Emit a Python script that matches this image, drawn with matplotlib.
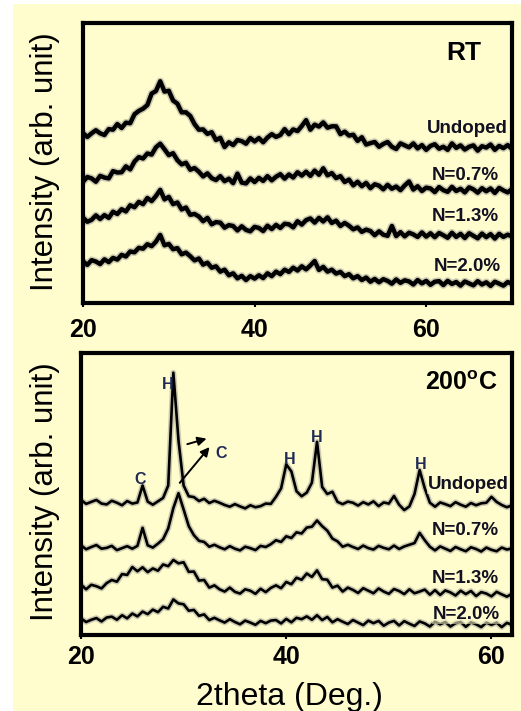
import numpy as np
import matplotlib
matplotlib.use("Agg")
import matplotlib.pyplot as plt
from matplotlib.patches import Rectangle

plt.rcParams['font.family'] = ['Liberation Sans', 'DejaVu Sans']

# ---- data (arbitrary intensity units, offset traces) ----
x_rt = np.linspace(20, 70, 101)          # 0.5 deg steps
x_200 = np.linspace(20, 62, 85)          # 0.5 deg steps

rt_undoped = [
    60.7, 59.3, 60.6, 61.7, 60.6, 60.0, 62.1, 61.9, 63.9, 62.5,
    64.4, 64.2, 67.4, 68.6, 69.4, 70.7, 74.8, 75.7, 79.2, 75.5,
    75.8, 72.3, 71.2, 68.1, 68.1, 66.8, 63.9, 61.9, 62.0, 60.4,
    61.0, 58.2, 59.0, 55.7, 57.4, 56.4, 58.2, 57.8, 56.9, 58.9,
    57.7, 58.9, 57.4, 59.1, 60.3, 59.3, 60.0, 62.1, 60.3, 62.0,
    61.4, 63.2, 65.3, 61.9, 63.7, 63.0, 64.5, 62.6, 63.1, 63.1,
    60.3, 61.2, 59.8, 60.1, 57.9, 59.2, 56.6, 57.1, 57.5, 55.8,
    56.8, 57.5, 55.8, 55.0, 57.0, 56.3, 55.6, 57.0, 55.2, 56.4,
    54.7, 56.1, 56.7, 55.1, 55.8, 54.7, 57.0, 55.4, 56.3, 54.8,
    55.8, 56.3, 54.4, 56.0, 55.5, 56.6, 54.7, 56.1, 55.3, 56.4,
    55.0]
rt_n07 = [
    43.3, 45.0, 44.5, 43.3, 45.4, 44.8, 44.5, 47.1, 46.6, 46.7,
    48.8, 47.7, 50.5, 52.1, 51.6, 53.4, 53.0, 55.6, 56.9, 54.9,
    52.8, 53.5, 51.0, 49.5, 50.1, 47.6, 48.2, 46.9, 45.2, 46.3,
    44.6, 43.9, 45.3, 43.5, 44.4, 42.8, 46.2, 43.0, 42.7, 44.5,
    43.2, 44.7, 43.6, 45.3, 43.8, 45.1, 46.0, 44.4, 45.9, 44.8,
    46.7, 45.5, 46.9, 45.4, 47.3, 45.8, 48.1, 45.6, 46.4, 44.6,
    45.3, 43.2, 44.1, 42.0, 43.3, 41.7, 42.9, 41.0, 42.4, 41.9,
    40.6, 42.2, 40.8, 41.6, 40.3, 42.0, 43.4, 40.5, 41.7, 40.0,
    41.2, 40.9, 39.6, 41.4, 40.3, 39.7, 41.5, 40.0, 40.8, 39.5,
    41.3, 40.6, 39.4, 41.0, 39.9, 40.9, 39.3, 41.1, 40.2, 39.5,
    40.7]
rt_n13 = [
    30.5, 29.0, 29.7, 31.3, 30.0, 31.4, 30.4, 32.6, 31.8, 33.5,
    32.7, 34.9, 34.2, 36.1, 35.3, 37.5, 36.4, 38.2, 40.4, 37.0,
    37.9, 35.3, 35.9, 33.4, 34.1, 31.5, 31.8, 30.9, 29.2, 30.4,
    28.1, 28.9, 28.7, 26.9, 27.8, 27.5, 25.9, 27.4, 26.1, 25.6,
    27.2, 26.8, 25.7, 27.6, 26.4, 27.9, 26.8, 28.3, 28.1, 27.0,
    29.2, 28.0, 29.6, 30.2, 28.7, 30.4, 29.1, 30.6, 28.6, 29.4,
    27.5, 28.6, 27.6, 26.3, 27.0, 25.4, 26.2, 25.7, 24.2, 25.6,
    24.4, 24.0, 27.5, 23.9, 25.3, 23.8, 25.1, 24.5, 23.6, 25.2,
    23.7, 24.9, 23.5, 25.0, 24.2, 23.3, 25.1, 23.6, 24.7, 23.2,
    24.9, 24.0, 23.1, 24.8, 23.5, 24.6, 23.0, 24.7, 23.6, 24.4,
    23.8]
rt_n20 = [
    14.9, 13.6, 15.3, 14.8, 13.9, 15.6, 14.6, 16.1, 15.5, 17.2,
    16.6, 18.4, 18.1, 19.7, 19.4, 21.0, 20.3, 21.9, 24.3, 20.6,
    21.1, 19.2, 19.6, 17.4, 18.0, 16.7, 15.2, 15.9, 13.7, 14.4,
    12.6, 13.1, 11.2, 11.9, 9.9, 10.6, 8.8, 9.7, 8.2, 9.6,
    8.7, 9.9, 8.9, 10.6, 9.6, 11.2, 10.3, 11.9, 11.1, 12.6,
    11.6, 13.1, 12.0, 13.4, 15.0, 11.8, 12.9, 11.2, 11.9, 10.5,
    11.1, 9.6, 10.3, 8.8, 9.6, 8.2, 9.1, 7.6, 8.6, 7.4,
    8.5, 7.9, 6.9, 8.4, 7.2, 8.1, 7.7, 6.6, 8.2, 7.0,
    7.9, 6.5, 7.6, 7.8, 6.4, 7.9, 6.8, 7.5, 6.2, 7.7,
    7.0, 6.3, 7.8, 6.6, 7.4, 6.1, 7.6, 6.9, 6.2, 7.5,
    6.8]

t200_undoped = [
    47.9, 46.5, 47.2, 47.9, 46.6, 46.3, 47.6, 46.9, 46.0, 47.5,
    46.6, 47.0, 53.0, 47.3, 46.2, 47.4, 48.6, 53.0, 93.0, 69.0,
    53.0, 49.2, 48.9, 47.5, 48.3, 46.8, 47.6, 46.9, 46.1, 45.5,
    46.4, 45.6, 44.9, 46.0, 45.3, 45.7, 46.6, 46.5, 49.0, 52.0,
    60.5, 58.0, 51.0, 49.2, 50.5, 54.0, 68.5, 52.5, 50.0, 50.8,
    47.2, 46.4, 47.3, 46.9, 45.9, 47.1, 46.3, 47.4, 45.7, 47.0,
    46.6, 49.3, 46.2, 44.3, 45.6, 50.0, 58.5, 52.0, 46.9, 45.5,
    47.0, 46.4, 45.7, 47.1, 46.2, 45.5, 46.8, 46.0, 46.7, 46.9,
    49.0, 47.2, 46.1, 45.3, 46.0]
t200_n07 = [
    31.8, 30.4, 31.2, 31.9, 30.6, 30.9, 31.6, 30.1, 30.8, 31.5,
    30.6, 31.6, 38.0, 31.8, 31.0, 32.4, 34.0, 37.8, 45.0, 50.3,
    44.5, 38.6, 35.4, 33.4, 33.0, 31.3, 32.0, 31.1, 30.4, 31.5,
    30.6, 30.0, 31.3, 30.8, 30.1, 31.6, 31.2, 32.2, 33.6, 33.0,
    35.0, 34.4, 36.4, 36.0, 38.1, 38.4, 40.6, 38.6, 37.0, 34.2,
    33.2, 31.3, 32.0, 31.2, 30.5, 31.7, 30.8, 30.3, 31.6, 30.9,
    30.4, 31.7, 30.5, 31.4, 32.0, 32.6, 36.2, 33.6, 31.3, 30.0,
    31.4, 30.6, 29.8, 31.2, 30.4, 29.7, 31.1, 30.5, 29.6, 31.0,
    30.2, 29.7, 31.0, 30.3, 30.7]
t200_n13 = [
    17.9, 16.2, 17.8, 17.3, 16.5, 18.4, 19.5, 18.9, 21.6, 21.3,
    24.1, 22.6, 24.0, 22.3, 23.6, 22.8, 25.0, 24.4, 26.6, 25.4,
    25.8, 22.4, 22.5, 19.3, 19.5, 16.8, 17.6, 16.2, 15.4, 16.8,
    15.3, 14.7, 16.2, 15.7, 14.6, 16.4, 15.2, 16.7, 17.6, 16.6,
    18.8, 18.0, 20.3, 19.6, 21.8, 20.6, 22.9, 19.8, 19.6, 16.8,
    17.5, 15.4, 16.8, 16.0, 14.9, 16.6, 15.7, 14.8, 16.5, 15.4,
    14.6, 16.3, 15.6, 14.5, 16.2, 14.8, 15.4, 16.1, 14.3, 15.9,
    14.2, 15.8, 15.1, 14.0, 15.7, 14.5, 15.6, 13.8, 15.2, 14.7,
    13.7, 15.3, 14.4, 13.6, 14.6]
t200_n20 = [
    5.9, 4.6, 5.4, 6.0, 4.8, 6.2, 6.5, 5.4, 7.0, 5.9,
    7.6, 6.6, 8.3, 7.4, 9.0, 8.1, 10.0, 9.4, 12.6, 11.2,
    10.9, 8.6, 8.9, 6.8, 7.3, 5.3, 6.1, 5.2, 4.4, 5.6,
    4.6, 3.8, 5.1, 4.4, 3.6, 5.0, 4.2, 5.1, 5.3, 4.1,
    5.7, 4.5, 6.1, 5.6, 6.6, 5.4, 7.0, 5.3, 6.4, 4.5,
    5.6, 4.7, 3.9, 5.3, 4.4, 3.5, 5.1, 4.2, 5.0, 3.3,
    4.4, 5.0, 3.4, 4.9, 4.0, 3.2, 4.8, 4.1, 3.0, 4.7,
    3.8, 4.6, 3.0, 4.2, 4.6, 2.9, 4.5, 3.8, 2.8, 4.4,
    3.6, 4.4, 2.8, 4.3, 3.6]

sample_names = ['Undoped', 'N=0.7%', 'N=1.3%', 'N=2.0%']
rt_label_y = [62.4, 45.7, 30.8, 13.0]
t200_label_y = [53.2, 37.2, 20.1, 7.1]

# phase markers on the 200C undoped trace: (label, x, y)
phase_marks = [('H', 28.45, 88.7), ('H', 40.3, 62.1), ('H', 43.0, 69.9),
               ('H', 53.1, 60.3), ('C', 25.8, 55.0), ('C', 33.7, 64.5)]

cream = '#FFFCCE'
fig = plt.figure(figsize=(5.21, 7.11), dpi=100)
fig.patch.set_facecolor('white')
fig.patches.append(Rectangle((13/521, 0), 1, 1 - 4/711, transform=fig.transFigure,
                             facecolor=cream, edgecolor='none', zorder=-10))

ax1 = fig.add_axes([83/521, 1 - 303/711, 429/521, 280/711])
ax2 = fig.add_axes([81/521, 1 - 635/711, 431/521, 282/711])


def draw_trace(ax, x, y, lw):
    ax.plot(x, y, color='#808080', lw=lw + 2.2, alpha=0.4, solid_joinstyle='round')
    ax.plot(x, y, color='black', lw=lw, solid_joinstyle='round')


for ys in [rt_undoped, rt_n07, rt_n13, rt_n20]:
    draw_trace(ax1, x_rt, ys, 3.2)
for ys in [t200_undoped, t200_n07, t200_n13, t200_n20]:
    draw_trace(ax2, x_200, ys, 1.9)

lbl_box = dict(facecolor=cream, edgecolor='none', alpha=0.55, pad=0.5)
right_rt = [69.45, 68.5, 68.5, 68.7]
right_200 = [61.65, 60.7, 60.7, 60.85]
for name, yy, xr in zip(sample_names, rt_label_y, right_rt):
    ax1.text(xr, yy, name, ha='right', va='center', fontsize=13.5,
             fontweight='bold', color='#111122', bbox=lbl_box, zorder=5)
for name, yy, xr in zip(sample_names, t200_label_y, right_200):
    ax2.text(xr, yy, name, ha='right', va='center', fontsize=13.5,
             fontweight='bold', color='#111122', bbox=lbl_box, zorder=5)

ax1.text(64.4, 89.3, 'RT', ha='center', va='center', fontsize=19, fontweight='bold')
ax2.text(57.1, 89.3, '200$^\\mathregular{o}$C', ha='center', va='center',
         fontsize=18, fontweight='bold')

for lab, xx, yy in phase_marks:
    ax2.text(xx, yy, lab, ha='center', va='center', fontsize=11.5,
             fontweight='bold', color='#1f2a55', zorder=6)

arrow = dict(arrowstyle='-|>', color='black', lw=1.4, mutation_scale=13)
ax2.annotate('', xy=(32.5, 69.9), xytext=(30.1, 67.4), arrowprops=arrow)
ax2.annotate('', xy=(32.7, 67.4), xytext=(29.45, 53.2), arrowprops=arrow)

for ax, lim, pad in [(ax1, 70, 7.5), (ax2, 62, 4.5)]:
    ax.set_facecolor(cream)
    ax.set_xlim(20, lim)
    ax.set_ylim(0, 100)
    ax.set_xticks([20, 40, 60])
    ax.set_yticks([])
    for s in ax.spines.values():
        s.set_linewidth(3)
    ax.tick_params(axis='x', direction='out', length=3, width=1.5, pad=pad,
                   labelsize=18)
    for t in ax.get_xticklabels():
        t.set_fontweight('bold')

fig.text(45/521, 1 - 161.5/711, 'Intensity (arb. unit)', rotation=90,
         ha='center', va='center', fontsize=22.5)
fig.text(45/521, 1 - 491.5/711, 'Intensity (arb. unit)', rotation=90,
         ha='center', va='center', fontsize=22.5)
fig.text(289/521, 1 - 705/711, '2theta (Deg.)', ha='center', va='baseline',
         fontsize=23)

fig.savefig('out.png', dpi=100, facecolor=fig.get_facecolor())
